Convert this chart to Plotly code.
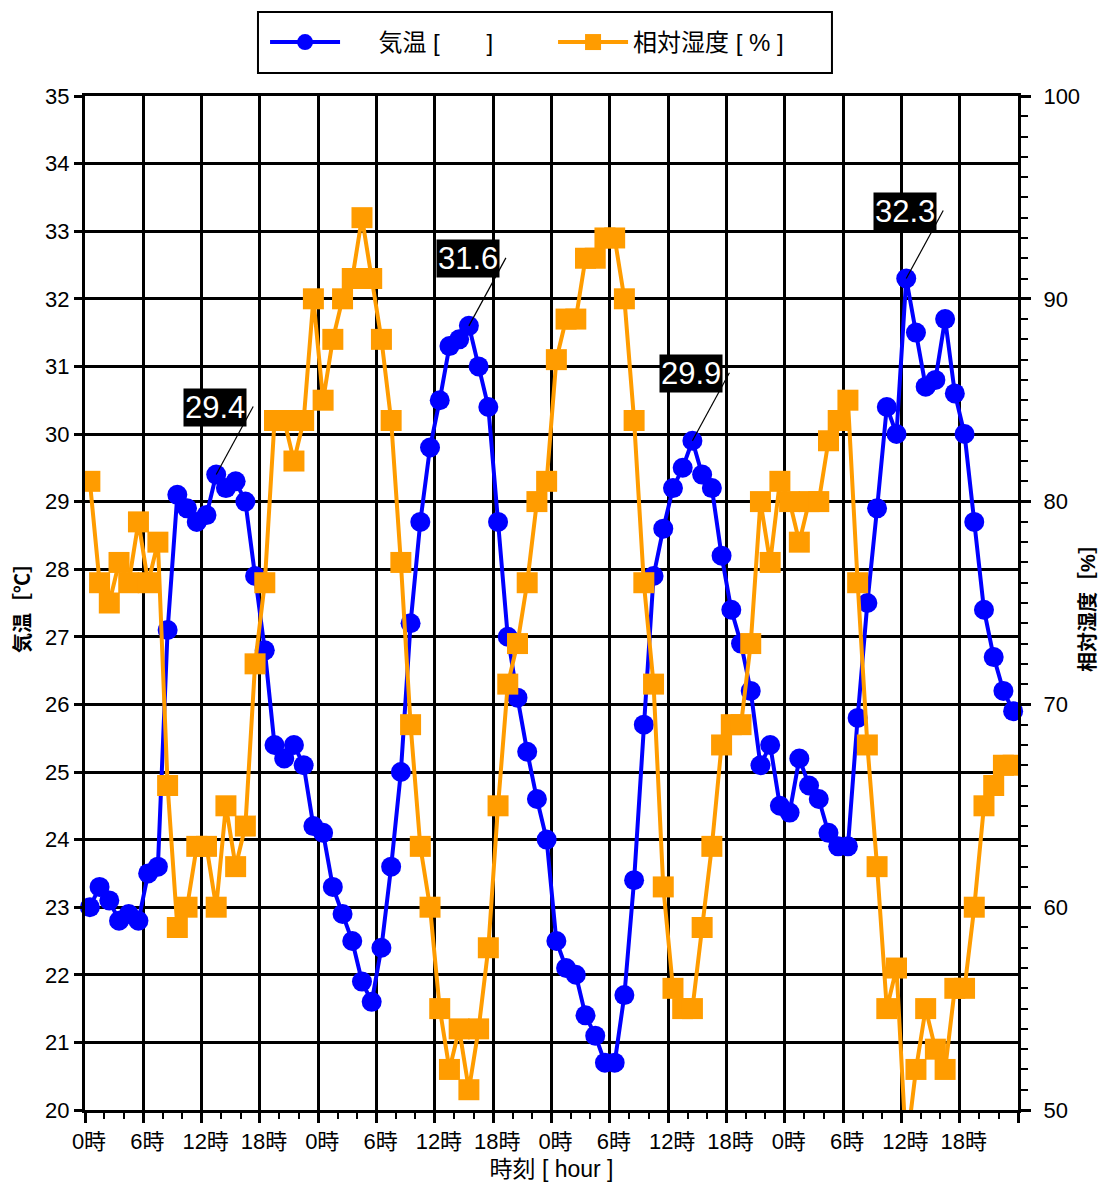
import plotly.graph_objects as go

# ---- data ----
time_h = [i + 0.5 for i in range(96)]  # hourly samples over 4 days (hours since start)

temperature = [
    23.0, 23.3, 23.1, 22.8, 22.9, 22.8, 23.5, 23.6, 27.1, 29.1,
    28.9, 28.7, 28.8, 29.4, 29.2, 29.3, 29.0, 27.9, 26.8, 25.4,
    25.2, 25.4, 25.1, 24.2, 24.1, 23.3, 22.9, 22.5, 21.9, 21.6,
    22.4, 23.6, 25.0, 27.2, 28.7, 29.8, 30.5, 31.3, 31.4, 31.6,
    31.0, 30.4, 28.7, 27.0, 26.1, 25.3, 24.6, 24.0, 22.5, 22.1,
    22.0, 21.4, 21.1, 20.7, 20.7, 21.7, 23.4, 25.7, 27.9, 28.6,
    29.2, 29.5, 29.9, 29.4, 29.2, 28.2, 27.4, 26.9, 26.2, 25.1,
    25.4, 24.5, 24.4, 25.2, 24.8, 24.6, 24.1, 23.9, 23.9, 25.8,
    27.5, 28.9, 30.4, 30.0, 32.3, 31.5, 30.7, 30.8, 31.7, 30.6,
    30.0, 28.7, 27.4, 26.7, 26.2, 25.9,
]

humidity = [
    81, 76, 75, 77, 76, 79, 76, 78, 66, 59,
    60, 63, 63, 60, 65, 62, 64, 72, 76, 84,
    84, 82, 84, 90, 85, 88, 90, 91, 94, 91,
    88, 84, 77, 69, 63, 60, 55, 52, 54, 51,
    54, 58, 65, 71, 73, 76, 80, 81, 87, 89,
    89, 92, 92, 93, 93, 90, 84, 76, 71, 61,
    56, 55, 55, 59, 63, 68, 69, 69, 73, 80,
    77, 81, 80, 78, 80, 80, 83, 84, 85, 76,
    68, 62, 55, 57, 48, 52, 55, 53, 52, 56,
    56, 60, 65, 66, 67, 67,
]

x_tick_vals = [0, 6, 12, 18, 24, 30, 36, 42, 48, 54, 60, 66, 72, 78, 84, 90, 96]
x_tick_text = ["0時", "6時", "12時", "18時", "0時", "6時", "12時", "18時",
               "0時", "6時", "12時", "18時", "0時", "6時", "12時", "18時", ""]

temp_name = "\u00a0\u00a0\u00a0\u00a0\u00a0気温 [\u00a0\u00a0\u00a0\u00a0\u00a0\u00a0\u00a0]"
hum_name = "相対湿度 [ % ]"

BLUE = "#0000FF"
ORANGE = "#FF9C00"
FONT = "Liberation Sans, Arial, Noto Sans CJK JP, sans-serif"

fig = go.Figure()
fig.add_trace(go.Scatter(
    x=time_h, y=temperature, name=temp_name, mode="lines+markers",
    line=dict(color=BLUE, width=4),
    marker=dict(symbol="circle", size=20, color=BLUE, line=dict(width=0)),
    cliponaxis=False,
))
fig.add_trace(go.Scatter(
    x=time_h, y=humidity, name=hum_name, mode="lines+markers", yaxis="y2",
    line=dict(color=ORANGE, width=4),
    marker=dict(symbol="square", size=21, color=ORANGE, line=dict(width=0)),
    cliponaxis=True,
))

# daily maximum labels
annotations = []
shapes = []
for d in range(4):
    seg = temperature[24 * d:24 * d + 24]
    k = 24 * d + seg.index(max(seg))
    annotations.append(dict(
        x=time_h[k], y=temperature[k], xref="x", yref="y",
        text=f"{temperature[k]:.1f}", showarrow=False,
        xshift=-1, yshift=67,
        bgcolor="black", font=dict(color="white", size=31, family=FONT),
        borderpad=1,
    ))
    shapes.append(dict(
        type="line", xref="x", yref="y",
        xsizemode="pixel", ysizemode="pixel",
        xanchor=time_h[k], yanchor=temperature[k],
        x0=0, y0=0, x1=37, y1=68,
        line=dict(color="black", width=1.2), layer="above",
    ))

# legend frame
shapes.append(dict(
    type="rect", xref="paper", yref="paper",
    x0=0.1854, x1=0.8006, y0=1.0227, y1=1.0828,
    line=dict(color="black", width=2), fillcolor="white", layer="below",
))

fig.update_layout(
    width=1100, height=1176,
    margin=dict(l=77, r=90, t=88, b=74, autoexpand=False),
    plot_bgcolor="white", paper_bgcolor="white",
    font=dict(family=FONT, size=22, color="black"),
    showlegend=True,
    legend=dict(
        orientation="h", xref="container", yref="container",
        x=0.4955, xanchor="center", y=0.9707, yanchor="middle",
        borderwidth=0, bgcolor="rgba(0,0,0,0)",
        font=dict(size=24, family=FONT), itemwidth=70,
        entrywidth=203, entrywidthmode="pixels",
    ),
    annotations=annotations,
    shapes=shapes,
    xaxis=dict(
        range=[0, 96], tickmode="array", tickvals=x_tick_vals, ticktext=x_tick_text,
        showgrid=True, gridcolor="black", gridwidth=3,
        showline=True, linecolor="black", linewidth=3, mirror=True,
        ticks="outside", ticklen=10, tickwidth=3, tickcolor="black",
        minor=dict(dtick=2, tick0=0, ticks="outside", ticklen=6, tickwidth=2,
                   tickcolor="black", showgrid=False),
        zeroline=False, ticklabelshift=4, automargin=False,
        title=dict(text="時刻 [ hour ]", font=dict(size=23), standoff=8),
    ),
    yaxis=dict(
        range=[20, 35], tick0=20, dtick=1,
        showgrid=True, gridcolor="black", gridwidth=3,
        showline=True, linecolor="black", linewidth=3, mirror=True,
        ticks="outside", ticklen=8, tickwidth=3, tickcolor="black",
        zeroline=False, automargin=False,
        title=dict(text="気温［℃］", font=dict(size=20, weight="bold"), standoff=10),
    ),
    yaxis2=dict(
        range=[50, 100], tick0=50, dtick=10, overlaying="y", side="right",
        showgrid=False, showline=True, linecolor="black", linewidth=3,
        ticks="outside", ticklen=10, tickwidth=3, tickcolor="black",
        minor=dict(dtick=1, tick0=50, ticks="outside", ticklen=7, tickwidth=2,
                   tickcolor="black", showgrid=False),
        zeroline=False, automargin=False, ticklabelstandoff=8,
        title=dict(text="相対湿度［%］", font=dict(size=20, weight="bold"), standoff=2),
    ),
)

fig.write_html("out.html")
